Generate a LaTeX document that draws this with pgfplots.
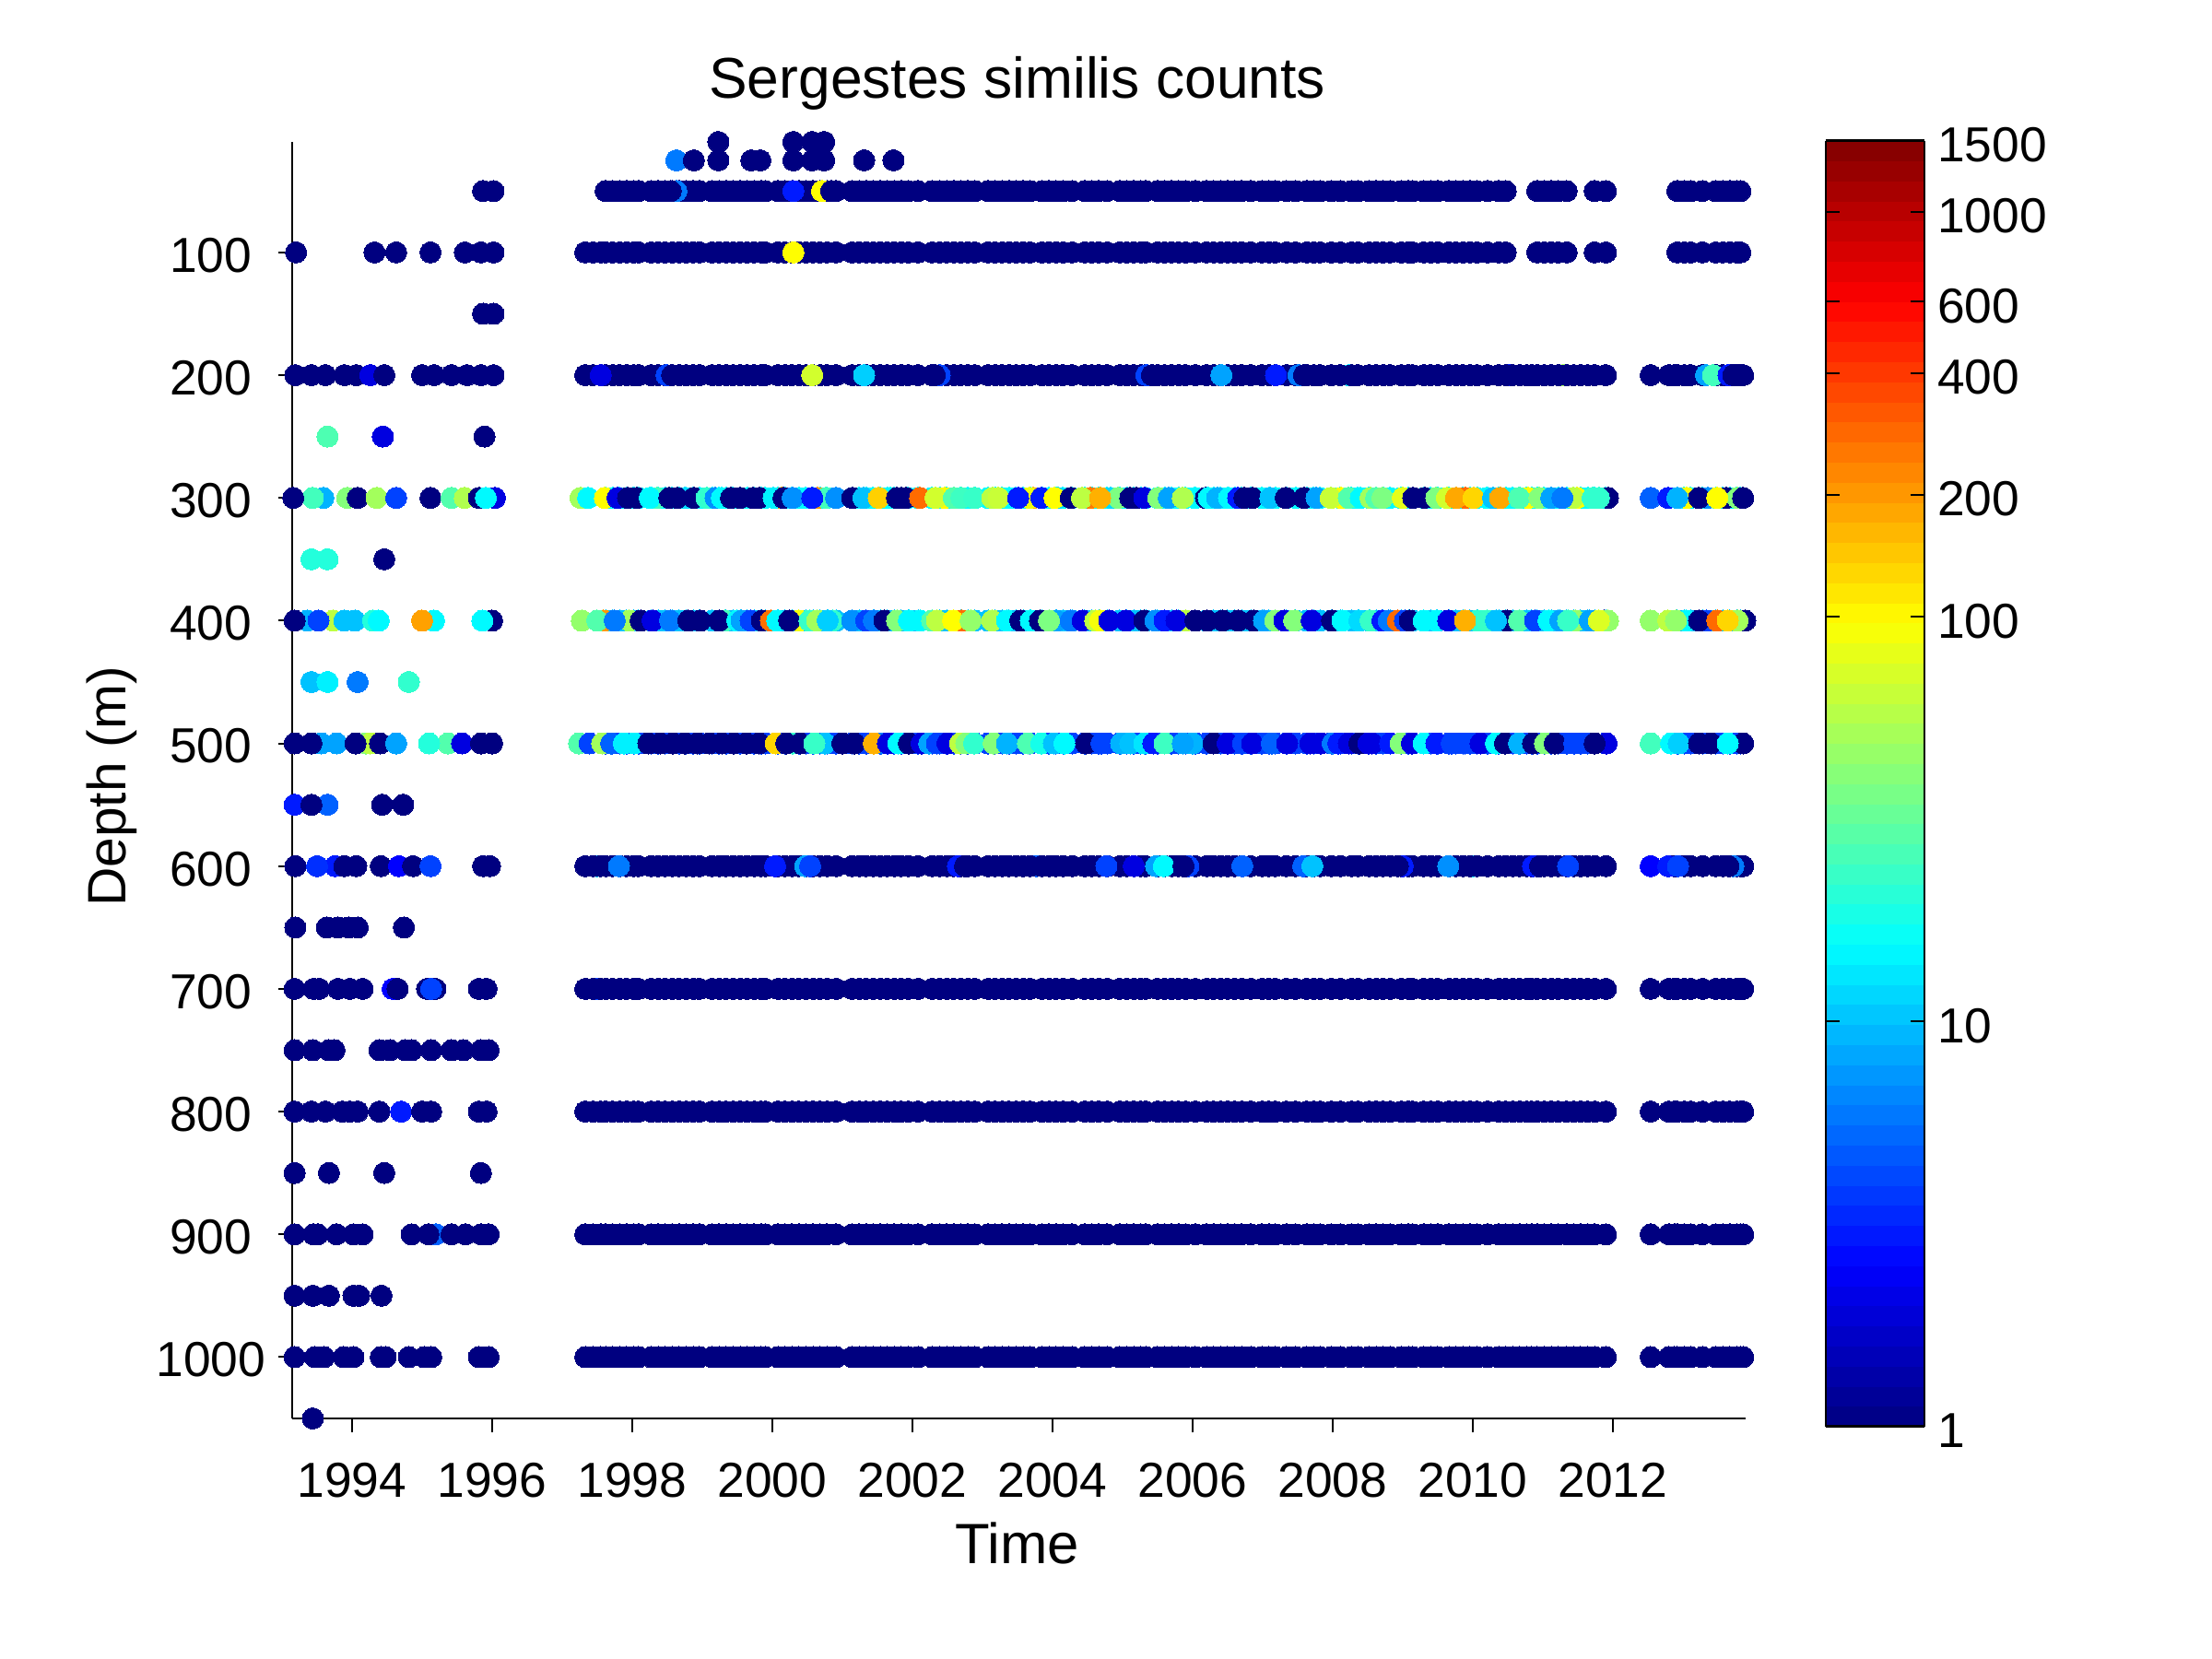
\documentclass[border=0pt]{standalone}
\usepackage{pgfplots}
\usepackage{pgfplotstable}
\usepackage{fontspec}
\setmainfont{Liberation Sans}
\pgfplotsset{compat=1.18}

% one reference pixel is 0.3pt, page is 2400x1800 px
\pgfplotsset{spot/.style={scatter,only marks,mark=*,mark size=3.45pt,
  point meta=explicit,
  mark options={line width=0pt},
  scatter/use mapped color={draw=mapped color,fill=mapped color}}}

% cruise times with a dark (count 1) spot at nearly every depth
\pgfplotstableread[row sep=\\]{t\\
1997.62\\1997.72\\1997.82\\1997.92\\1998.02\\1998.09\\1998.27\\1998.37\\1998.47\\1998.57\\1998.67\\1998.77\\1998.87\\1998.96\\
1999.14\\1999.24\\1999.34\\1999.44\\1999.54\\1999.64\\1999.74\\1999.84\\1999.90\\2000.08\\2000.18\\2000.28\\2000.38\\2000.48\\2000.58\\2000.68\\2000.78\\2000.91\\
2001.14\\2001.24\\2001.34\\2001.44\\2001.54\\2001.64\\2001.74\\2001.84\\2001.94\\2002.08\\2002.28\\2002.39\\2002.49\\2002.59\\2002.69\\2002.79\\2002.89\\
2003.08\\2003.18\\2003.28\\2003.38\\2003.48\\2003.58\\2003.68\\2003.85\\2003.95\\2004.05\\2004.15\\2004.28\\2004.46\\2004.56\\2004.66\\2004.78\\
2004.96\\2005.06\\2005.16\\2005.26\\2005.33\\2005.50\\2005.60\\2005.70\\2005.80\\2005.90\\2006.04\\2006.20\\2006.30\\2006.40\\2006.50\\2006.60\\2006.70\\2006.83\\
2006.99\\2007.09\\2007.18\\2007.34\\2007.47\\2007.63\\2007.73\\2007.82\\2007.98\\2008.11\\2008.27\\2008.36\\2008.52\\2008.62\\2008.72\\2008.82\\
2008.98\\2009.08\\2009.14\\2009.30\\2009.40\\2009.50\\2009.66\\2009.76\\2009.86\\2009.96\\2010.06\\2010.21\\2010.37\\2010.47\\
2010.92\\2011.02\\2011.12\\2011.22\\2011.34\\2011.74\\2011.90\\
2012.92\\2013.02\\2013.11\\2013.28\\2013.47\\2013.57\\2013.67\\2013.77\\2013.82\\
}\runmain
\pgfplotstableread[row sep=\\]{t\\1997.33\\1997.44\\1997.55\\}\runlead
\pgfplotstableread[row sep=\\]{t\\2012.54\\2012.80\\2012.88\\2013.86\\}\runlate
\pgfplotstableread[row sep=\\]{t\\2010.57\\2010.67\\2010.77\\2010.84\\2011.44\\2011.54\\2011.64\\}\runfill

% 1993-1996 and the shallow rows, in drawing order
\pgfplotstableread[row sep=\\]{t d c\\
1998.63 25 6\\1998.88 25 1\\1999.23 25 1\\1999.70 25 1\\1999.83 25 1\\2000.30 25 1\\2000.57 25 1\\2000.74 25 1\\2001.31 25 1\\2001.73 25 1\\
1999.23 10 1\\2000.30 10 1\\2000.57 10 1\\2000.74 10 1\\
1995.87 50 1\\1996.02 50 1\\
1993.20 100 1\\1994.32 100 1\\1994.63 100 1\\1995.12 100 1\\1995.61 100 1\\1995.84 100 1\\1996.02 100 1\\
1995.87 150 1\\1996.02 150 1\\
1993.19 200 1\\1993.42 200 1\\1993.62 200 1\\1993.89 200 1\\1994.06 200 1\\1994.26 200 2\\1994.46 200 1\\1995.00 200 1\\1995.17 200 1\\1995.42 200 1\\1995.64 200 1\\1995.84 200 1\\1996.02 200 1\\
1993.65 250 27\\1994.44 250 2\\1995.89 250 1\\
1993.59 300 9\\1993.93 300 40\\1993.44 300 25\\1993.16 300 1\\1994.08 300 1\\1994.35 300 50\\1994.63 300 4\\1995.12 300 1\\1995.42 300 28\\1995.61 300 55\\1995.81 300 1\\1996.04 300 2\\1995.91 300 15\\
1993.42 350 20\\1993.65 350 20\\1994.46 350 1\\
1993.36 400 9\\1993.73 400 60\\1993.18 400 1\\1993.52 400 4\\1993.89 400 10\\1994.04 400 10\\1994.30 400 20\\1994.38 400 15\\1995.17 400 15\\1995.00 400 190\\1996.00 400 1\\1995.86 400 15\\
1993.42 450 10\\1993.65 450 14\\1994.08 450 6\\1994.81 450 22\\
1993.18 500 1\\1993.56 500 8\\1993.42 500 1\\1993.78 500 8\\1994.20 500 40\\1994.26 500 60\\1994.05 500 1\\1994.40 500 1\\1994.63 500 8\\1995.37 500 28\\1995.10 500 20\\1995.57 500 2\\1995.84 500 1\\1996.00 500 1\\
1993.18 550 3\\1993.65 550 5\\1993.42 550 1\\1994.43 550 1\\1994.73 550 1\\
1993.19 600 1\\1993.76 600 3\\1993.50 600 3.5\\1993.89 600 1\\1994.06 600 1\\1994.41 600 1\\1994.67 600 2.5\\1994.87 600 1\\1995.12 600 4\\1995.87 600 1\\1995.97 600 1\\
1993.19 650 1\\1993.64 650 1\\1993.80 650 1\\1993.95 650 1\\1994.08 650 1\\1994.74 650 1\\
1993.18 700 1\\1993.45 700 1\\1993.53 700 1\\1993.80 700 1\\1993.97 700 1\\1994.15 700 1\\1994.58 700 2.5\\1994.65 700 1\\1995.07 700 1\\1995.19 700 1\\1995.13 700 4\\1995.81 700 1\\1995.92 700 1\\
1993.18 750 1\\1993.44 750 1\\1993.67 750 1\\1993.75 750 1\\1994.39 750 1\\1994.54 750 1\\1994.76 750 1\\1994.85 750 1\\1995.13 750 1\\1995.42 750 1\\1995.59 750 1\\1995.84 750 1\\1995.95 750 1\\
1993.18 800 1\\1993.42 800 1\\1993.62 800 1\\1993.86 800 1\\1993.97 800 1\\1994.08 800 1\\1994.39 800 1\\1994.70 800 3\\1995.00 800 1\\1995.13 800 1\\1995.81 800 1\\1995.92 800 1\\
1993.18 850 1\\1993.67 850 1\\1994.46 850 1\\1995.84 850 1\\
1993.18 900 1\\1993.45 900 1\\1993.51 900 1\\1993.78 900 1\\1994.02 900 1\\1994.15 900 1\\1994.85 900 1\\1995.20 900 5\\1995.09 900 1\\1995.42 900 1\\1995.62 900 1\\1995.84 900 1\\1995.95 900 1\\
1993.18 950 1\\1993.44 950 1\\1993.67 950 1\\1994.02 950 1\\1994.10 950 1\\1994.42 950 1\\
1993.18 1000 1\\1993.47 1000 1\\1993.60 1000 1\\1993.88 1000 1\\1994.02 1000 1\\1994.41 1000 1\\1994.48 1000 1\\1994.81 1000 1\\1995.03 1000 1\\1995.13 1000 1\\1995.81 1000 1\\1995.95 1000 1\\
1993.44 1050 1\\
}\earlyspots

% coloured spots that the dark runs cover
\pgfplotstableread[row sep=\\]{t d c\\
2008.23 200 13\\2010.51 200 3\\2011.29 200 50\\
1997.49 600 10\\2003.77 600 5\\2008.62 600 3\\2010.00 600 13\\
1997.48 700 4\\2005.69 700 4\\
}\underspots

% coloured spots lying on the dark runs
\pgfplotstableread[row sep=\\]{t d c\\
1998.63 50 6\\1998.55 50 1\\2000.30 50 3\\2000.71 50 97\\2000.84 50 1\\2000.30 100 97\\
1997.55 200 2\\1998.49 200 4\\1998.57 200 1\\2000.57 200 70\\2001.31 200 11\\2002.39 200 4\\2002.32 200 1\\2005.34 200 4\\2005.42 200 1\\2006.41 200 8\\2007.19 200 3\\2007.51 200 6\\2007.59 200 1\\2013.33 200 8\\2013.43 200 25\\2013.65 200 3\\2013.72 200 1\\
1997.81 600 6\\2000.04 600 3\\2000.47 600 8\\2000.54 600 4\\2002.65 600 3\\2002.75 600 1\\2004.77 600 4\\2005.16 600 2\\2005.48 600 8\\2005.59 600 15\\2005.94 600 4\\2005.87 600 1\\2006.71 600 5\\2007.58 600 5\\2007.71 600 10\\2009.65 600 7\\2009.00 600 3\\2008.93 600 1\\2010.86 600 3\\2010.96 600 1\\2011.36 600 4\\2012.54 600 2.5\\2012.79 600 3\\2012.93 600 4\\2013.72 600 6\\2013.65 600 1\\
}\overspots

% the 300, 400 and 500 m rows from 1997 on
\pgfplotstableread[row sep=\\]{t d c\\
1997.26 300 50\\1997.37 300 15\\1997.61 300 97\\1997.79 300 2\\1997.94 300 1\\1998.07 300 1\\1998.36 300 25\\1998.25 300 15\\1998.75 300 12\\1998.88 300 1\\1999.06 300 22\\1998.53 300 1\\1998.64 300 1\\1999.19 300 7\\1999.28 300 15\\1999.41 300 1\\1999.54 300 1\\1999.72 300 1\\1999.81 300 1\\2000.13 300 180\\2000.64 300 200\\2000.02 300 14\\2000.16 300 1\\2000.29 300 7\\2000.77 300 25\\2000.57 300 3\\2000.91 300 7\\2001.14 300 1\\2001.30 300 10\\2001.69 300 15\\2001.52 300 135\\2001.78 300 1\\2001.84 300 1\\2001.91 300 1\\2002.11 300 280\\2002.46 300 100\\2002.33 300 70\\2002.59 300 28\\2002.70 300 24\\2002.88 300 23\\
2003.14 300 60\\2003.23 300 65\\2003.73 300 170\\2003.67 300 85\\2003.51 300 3\\2003.84 300 3\\2004.08 300 12\\2004.03 300 97\\2004.26 300 1\\2004.54 300 250\\2004.42 300 60\\2004.83 300 12\\2004.94 300 38\\2004.68 300 170\\2005.11 300 1\\2005.20 300 1\\2005.31 300 2\\2005.51 300 40\\2005.66 300 8\\2006.03 300 15\\2005.86 300 55\\2006.19 300 1\\2006.23 300 15\\2006.35 300 9\\2006.52 300 15\\2006.65 300 3\\2006.74 300 1\\2006.85 300 1\\2007.11 300 10\\2007.33 300 1\\2007.59 300 1\\2007.77 300 8\\2008.12 300 97\\2007.97 300 65\\2008.23 300 28\\2008.40 300 15\\2008.54 300 50\\
2008.62 300 28\\2008.71 300 38\\2009.00 300 80\\2009.15 300 1\\2009.31 300 1\\2009.48 300 38\\2009.63 300 70\\2009.89 300 280\\2009.76 300 180\\2010.20 300 15\\2010.01 300 130\\2010.29 300 10\\2010.39 300 180\\2010.79 300 97\\2010.66 300 27\\2010.95 300 40\\2011.12 300 8\\2011.49 300 95\\2011.43 300 60\\2011.28 300 6\\2011.93 300 1\\2011.71 300 22\\2011.80 300 22\\
2012.54 300 5\\2012.79 300 3\\2013.05 300 97\\2012.92 300 9\\2013.36 300 7\\2013.23 300 1\\2013.62 300 1\\2013.78 300 40\\2013.49 300 97\\2013.86 300 1\\
1997.59 400 200\\1997.28 400 45\\1997.50 400 28\\1997.96 400 50\\1997.75 400 6\\1998.12 400 1\\1998.29 400 2\\1998.54 400 6\\1998.80 400 1\\1998.97 400 1\\1999.32 400 25\\1999.24 400 1\\1999.50 400 15\\1999.56 400 8\\1999.69 400 4\\1999.85 400 1\\1999.98 400 270\\2000.07 400 15\\2000.38 400 90\\2000.24 400 1\\2000.53 400 23\\2000.64 400 50\\2000.86 400 22\\2000.79 400 11\\2001.14 400 7\\2001.34 400 4\\2001.45 400 6\\2001.60 400 1\\2001.78 400 40\\2001.95 400 15\\2002.11 400 15\\2002.28 400 28\\2002.35 400 60\\2002.70 400 280\\2002.58 400 97\\2002.83 400 45\\
2003.14 400 55\\2003.35 400 15\\2003.54 400 1\\2003.69 400 15\\2003.82 400 1\\2004.06 400 8\\2003.95 400 38\\2004.26 400 6\\2004.43 400 2\\2004.61 400 60\\2004.68 400 90\\2004.81 400 2\\2005.05 400 2\\2005.31 400 1\\2005.47 400 7\\2005.60 400 3\\2005.90 400 60\\2005.77 400 2\\2006.04 400 1\\2006.21 400 1\\2006.43 400 1\\2006.65 400 1\\2006.87 400 1\\2007.02 400 8\\2007.18 400 40\\2007.31 400 2\\2007.45 400 40\\2007.70 400 2\\2007.99 400 1\\2008.14 400 15\\2008.38 400 12\\2008.54 400 23\\
2008.71 400 3\\2008.80 400 6\\2008.93 400 280\\2009.03 400 4\\2009.10 400 1\\2009.30 400 15\\2009.48 400 15\\2009.65 400 2\\2010.07 400 22\\2009.89 400 170\\2010.20 400 23\\2010.49 400 1\\2010.33 400 10\\2010.66 400 28\\2010.89 400 4\\2011.08 400 15\\2011.25 400 8\\2011.47 400 45\\2011.36 400 23\\2011.67 400 8\\2011.87 400 1\\2011.93 400 45\\2011.80 400 75\\
2012.54 400 45\\2012.79 400 60\\2013.05 400 15\\2012.90 400 45\\2013.34 400 4\\2013.23 400 1\\2013.49 400 280\\2013.89 400 1\\2013.78 400 50\\2013.64 400 130\\
1997.24 500 28\\1997.39 500 4\\1997.57 500 50\\1997.70 500 5\\1997.88 500 14\\1998.03 500 14\\1998.23 500 1\\1998.40 500 1\\1998.58 500 1\\1998.75 500 1\\1998.93 500 1\\1999.10 500 1\\1999.28 500 1\\1999.45 500 1\\1999.63 500 1\\1999.81 500 1\\2000.05 500 130\\2000.29 500 22\\2000.20 500 1\\2000.40 500 1\\2000.75 500 10\\2000.60 500 23\\2001.00 500 1\\2001.17 500 1\\2001.56 500 6\\2001.45 500 170\\2001.65 500 2\\2001.80 500 15\\2001.95 500 1\\2002.13 500 2\\2002.24 500 8\\2002.35 500 4\\2002.50 500 2\\2002.68 500 60\\2002.77 500 40\\2002.88 500 22\\
2003.16 500 40\\2003.35 500 9\\2003.65 500 27\\2003.84 500 18\\2004.02 500 10\\2004.17 500 15\\2004.48 500 1\\2004.70 500 4\\2004.98 500 9\\2005.11 500 10\\2005.31 500 13\\2005.44 500 3\\2005.60 500 24\\2006.00 500 9\\2005.86 500 8\\2006.30 500 1\\2006.50 500 2\\2006.72 500 4\\2006.85 500 2\\2007.13 500 5\\2007.35 500 2\\2007.68 500 2\\2007.83 500 2\\2008.00 500 6\\2008.08 500 3\\2008.23 500 2\\2008.38 500 1\\2008.51 500 2\\
2008.56 500 2\\2008.82 500 3\\2008.97 500 40\\2009.13 500 2\\2009.30 500 15\\2009.48 500 3\\2009.70 500 4\\2009.89 500 4\\2010.11 500 2\\2010.33 500 15\\2010.46 500 1\\2010.66 500 9\\2010.86 500 1\\2011.03 500 40\\2011.17 500 1\\2011.45 500 4\\2011.91 500 2\\2011.74 500 1\\
2012.54 500 25\\2012.83 500 15\\2012.94 500 11\\2013.86 500 1\\2013.23 500 1\\2013.40 500 1\\2013.64 500 15\\
}\midrows

% #1 depth, #2 log10 of the count, #3 table of times
\newcommand{\timerun}[3]{\addplot[spot] table[x=t,y index=0,y expr=#1,meta expr=#2] {#3};}
\newcommand{\darkrun}[2]{\timerun{#1}{0}{#2}}

\begin{document}
\begin{tikzpicture}
\useasboundingbox (0,0) rectangle (720pt,540pt);
\begin{axis}[
  at={(95.1pt,78.3pt)},anchor=south west,
  scale only axis,width=473.2pt,height=415.5pt,
  y dir=reverse,
  xmin=1993.145,xmax=2013.9,ymin=10,ymax=1050,
  axis x line*=bottom,axis y line*=left,
  axis line style={-,line width=0.7pt},
  tick style={black,line width=0.6pt},
  major tick length=4.5pt,tick align=outside,
  xtick={1994,1996,...,2012},ytick={100,200,...,1000},
  minor tick num=0,
  xticklabel style={yshift=-6.4pt},
  yticklabel style={anchor=center,xshift=-22pt,yshift=-0.9pt},
  /pgf/number format/1000 sep={},
  /pgf/number format/assume math mode=true,
  tick label style={font=\fontsize{16}{18}\selectfont},
  label style={font=\fontsize{18.5}{20}\selectfont},
  clip=false,axis on top=true,
  title={Sergestes similis counts},
  title style={font=\fontsize{18.7}{20}\selectfont,at={(axis description cs:0.5,1.0)},anchor=base,yshift=8.2pt,xshift=-0.6pt},
  xlabel={Time},
  xlabel style={at={(axis description cs:0.5,0)},anchor=base,yshift=-47.3pt,xshift=-0.6pt},
  ylabel={Depth (m)},
  ylabel style={font=\fontsize{17.6}{20}\selectfont,at={(axis description cs:0,0.495)},anchor=base,rotate=0,yshift=54pt},
  colormap/jet,
  point meta min=0,point meta max=3.176,
  colorbar sampled,
  colorbar style={
    samples=65,
    at={(1.05495,-0.0062)},anchor=south west,
    scale only axis,width=32.1pt,height=418.5pt,
    ytick={0,1,2,2.301,2.602,2.778,3,3.176},
    yticklabels={1,10,100,200,400,600,1000,1500},
    ytick pos=both,yticklabel pos=right,tick align=inside,
    major tick length=4.5pt,
    axis line style={line width=0.7pt},
    /pgf/number format/assume math mode=true,
    yticklabel style={font=\fontsize{16}{18}\selectfont,xshift=0.7pt,yshift=-1.4pt},
  },
]
\addplot[spot] table[x=t,y=d,meta expr=log10(\thisrow{c})] {\earlyspots};
\addplot[spot] table[x=t,y=d,meta expr=log10(\thisrow{c})] {\underspots};
\darkrun{50}{\runmain}
\darkrun{100}{\runmain}\darkrun{100}{\runlead}
\darkrun{200}{\runmain}\darkrun{200}{\runlead}\darkrun{200}{\runlate}\darkrun{200}{\runfill}
\darkrun{600}{\runmain}\darkrun{600}{\runlead}\darkrun{600}{\runlate}\darkrun{600}{\runfill}
\darkrun{700}{\runmain}\darkrun{700}{\runlead}\darkrun{700}{\runlate}\darkrun{700}{\runfill}
\darkrun{800}{\runmain}\darkrun{800}{\runlead}\darkrun{800}{\runlate}\darkrun{800}{\runfill}
\darkrun{900}{\runmain}\darkrun{900}{\runlead}\darkrun{900}{\runlate}\darkrun{900}{\runfill}
\darkrun{1000}{\runmain}\darkrun{1000}{\runlead}\darkrun{1000}{\runlate}\darkrun{1000}{\runfill}
\addplot[spot] table[x=t,y=d,meta expr=log10(\thisrow{c})] {\overspots};
% what shows between the spots of the mixed rows
\timerun{300}{1.18}{\runmain}\timerun{300}{1.18}{\runfill}
\timerun{400}{1.0}{\runmain}\timerun{400}{1.0}{\runfill}
\timerun{500}{0.6}{\runmain}\timerun{500}{0.6}{\runfill}
\addplot[spot] table[x=t,y=d,meta expr=log10(\thisrow{c})] {\midrows};
\end{axis}
\end{tikzpicture}
\end{document}
